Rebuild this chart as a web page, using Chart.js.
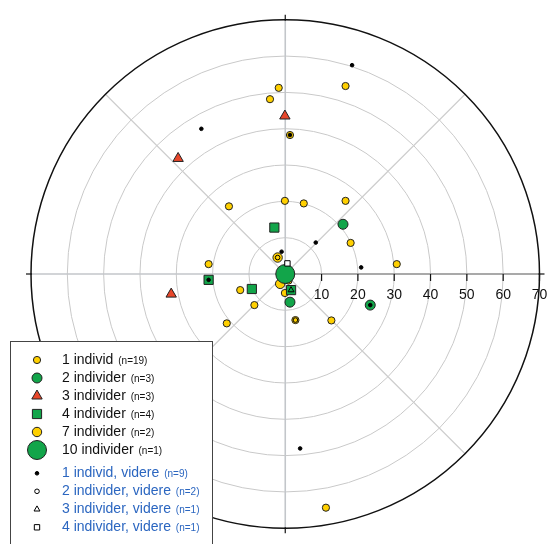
<!DOCTYPE html>
<html>
<head>
<meta charset="utf-8">
<script src="https://cdn.jsdelivr.net/npm/chart.js@4.4.0/dist/chart.umd.min.js"></script>
<style>
  html, body { margin: 0; padding: 0; background: #fff; overflow: hidden; }
  #polar { display: block; }
</style>
</head>
<body>
<canvas id="polar" width="550" height="544"></canvas>
<script>
// legend categories and how many of each
const categories = ['1 individ', '2 individer', '3 individer', '4 individer', '7 individer', '10 individer',
  '1 individ, videre', '2 individer, videre', '3 individer, videre', '4 individer, videre'];
const counts = [19, 3, 3, 4, 2, 1, 9, 2, 1, 1];

// observations, [east, north] from the centre
const ind1 = [[-1.8, 50.9], [-4.2, 47.8], [16.6, 51.4], [1.3, 38.0], [-0.1, 20.0], [5.1, 19.3],
  [-15.5, 18.5], [16.6, 20.0], [18.0, 8.5], [30.7, 2.7], [-21.1, 2.7], [-12.4, -4.4], [-8.5, -8.5],
  [-16.1, -13.5], [12.7, -12.7], [2.8, -12.6], [11.2, -63.9], [-0.1, -5.2], [0.9, -1.8]];
const ind2 = [[15.9, 13.6], [23.4, -8.5], [1.3, -7.7]];
const ind3 = [[-0.1, 43.2], [-29.5, 31.6], [-31.4, -5.5]];
const ind4 = [[-3.0, 12.7], [-9.2, -4.1], [-21.1, -1.6], [1.6, -4.4]];
const ind7 = [[-2.1, 4.5], [-1.4, -2.7]];
const ind10 = [[0, 0]];
const videre1 = [[18.4, 57.1], [-23.1, 39.7], [8.4, 8.6], [20.9, 1.8], [-1.0, 6.1], [4.1, -47.7],
  [23.4, -8.5], [-21.1, -1.6], [1.3, 38.0]];
const videre2 = [[-2.1, 4.5], [2.8, -12.6]];
const videre3 = [[1.6, -4.4]];
const videre4 = [[0.6, 2.9]];

const tickLabels = [10, 20, 30, 40, 50, 60, 70];
const spokeAngles = [0, 45, 90, 135, 180, 225, 270, 315];

const FONT = "'Liberation Sans', Arial, sans-serif";
const YELLOW = '#ffd000', GREEN = '#12a54a', RED = '#e8472b', EDGE = '#222';
const CLEAR = 'rgba(0,0,0,0)';

function pts(list) {
  return list.map(p => ({ x: p[0], y: p[1] }));
}

function series(i, list, style, radius, fill, border, order) {
  return {
    label: categories[i],
    data: pts(list),
    pointStyle: style,
    pointRadius: radius,
    backgroundColor: fill,
    borderColor: border,
    borderWidth: 1,
    order: order
  };
}

const datasets = [
  series(0, ind1, 'circle', 3.6, YELLOW, EDGE, 7),
  series(1, ind2, 'circle', 5, GREEN, EDGE, 4),
  series(2, ind3, 'triangle', 6, RED, EDGE, 3),
  series(3, ind4, 'rect', 6.5, GREEN, EDGE, 2),
  series(4, ind7, 'circle', 4.7, YELLOW, EDGE, 6),
  series(5, ind10, 'circle', 9.5, GREEN, EDGE, 5),
  series(6, videre1, 'circle', 1.8, '#000', '#000', 1),
  series(7, videre2, 'circle', 2.3, CLEAR, '#000', 1),
  series(8, videre3, 'triangle', 3.4, CLEAR, '#000', 1),
  series(9, videre4, 'rect', 3.8, '#fff', '#000', 1)
];

// rings, spokes, axis ticks
const polarGrid = {
  id: 'polarGrid',
  beforeDatasetsDraw(chart) {
    const { ctx } = chart;
    const xs = chart.scales.x, ys = chart.scales.y;
    const cx = xs.getPixelForValue(0), cy = ys.getPixelForValue(0);
    const rOf = v => xs.getPixelForValue(v) - cx;
    const rMax = rOf(tickLabels[tickLabels.length - 1]);
    ctx.save();

    ctx.strokeStyle = '#c9c9c9';
    ctx.lineWidth = 1;
    tickLabels.slice(0, -1).forEach(v => {
      ctx.beginPath();
      ctx.arc(cx, cy, rOf(v), 0, Math.PI * 2);
      ctx.stroke();
    });

    spokeAngles.forEach(a => {
      if (a === 0) return;
      const t = a * Math.PI / 180;
      ctx.strokeStyle = a % 90 === 0 ? '#c3c6ca' : '#cdcdcd';
      ctx.lineWidth = a % 90 === 0 ? 1.6 : 1.2;
      ctx.beginPath();
      ctx.moveTo(cx, cy);
      ctx.lineTo(cx + rMax * Math.cos(t), cy - rMax * Math.sin(t));
      ctx.stroke();
    });

    // the scale axis, to the east
    ctx.strokeStyle = '#8c8c8c';
    ctx.lineWidth = 1.6;
    ctx.beginPath();
    ctx.moveTo(cx, cy);
    ctx.lineTo(cx + rMax, cy);
    ctx.stroke();

    ctx.strokeStyle = '#111';
    ctx.lineWidth = 1.5;
    ctx.beginPath();
    ctx.arc(cx, cy, rMax, 0, Math.PI * 2);
    ctx.stroke();

    // small marks where the cross leaves the outer ring
    ctx.lineWidth = 1.2;
    [0, 90, 180, 270].forEach(a => {
      const t = a * Math.PI / 180;
      ctx.beginPath();
      ctx.moveTo(cx + (rMax - 1) * Math.cos(t), cy - (rMax - 1) * Math.sin(t));
      ctx.lineTo(cx + (rMax + 5) * Math.cos(t), cy - (rMax + 5) * Math.sin(t));
      ctx.stroke();
    });

    ctx.fillStyle = '#111';
    ctx.font = '14px ' + FONT;
    ctx.textAlign = 'center';
    ctx.textBaseline = 'alphabetic';
    tickLabels.forEach(v => {
      const px = xs.getPixelForValue(v);
      ctx.beginPath();
      ctx.moveTo(px, cy);
      ctx.lineTo(px, cy + 7);
      ctx.stroke();
      ctx.fillText(String(v), px, cy + 25);
    });
    ctx.restore();
  }
};

// boxed legend in the lower left corner
const boxLegend = {
  id: 'boxLegend',
  afterDatasetsDraw(chart) {
    const { ctx } = chart;
    ctx.save();
    ctx.fillStyle = '#fff';
    ctx.strokeStyle = '#444';
    ctx.lineWidth = 1;
    ctx.fillRect(10.5, 341.5, 202, 230);
    ctx.strokeRect(10.5, 341.5, 202, 230);

    categories.forEach((cat, i) => {
      const ds = chart.data.datasets[i];
      const y = 360 + 18 * i + (i >= 6 ? 5.3 : 0);
      ctx.fillStyle = ds.backgroundColor;
      ctx.strokeStyle = ds.borderColor;
      ctx.lineWidth = ds.borderWidth;
      Chart.helpers.drawPoint(ctx, {
        pointStyle: ds.pointStyle, radius: ds.pointRadius, borderWidth: ds.borderWidth, rotation: 0
      }, 37, y);

      const color = i >= 6 ? '#2b66c0' : '#111';
      ctx.fillStyle = color;
      ctx.textAlign = 'left';
      ctx.textBaseline = 'middle';
      ctx.font = '14px ' + FONT;
      const main = cat + ' ';
      ctx.fillText(main, 62, y);
      const w = ctx.measureText(main).width;
      ctx.font = '10px ' + FONT;
      ctx.fillText('(n=' + counts[i] + ')', 62 + w + 1, y + 1);
    });
    ctx.restore();
  }
};

new Chart(document.getElementById('polar'), {
  type: 'scatter',
  data: { datasets: datasets },
  options: {
    responsive: false,
    animation: false,
    devicePixelRatio: 1,
    layout: { padding: { left: 31, right: 7, top: 18, bottom: 14 } },
    scales: {
      x: { type: 'linear', min: -70, max: 70, display: false },
      y: { type: 'linear', min: -70, max: 70, display: false }
    },
    plugins: {
      legend: { display: false },
      tooltip: { enabled: false }
    }
  },
  plugins: [polarGrid, boxLegend]
});
</script>
</body>
</html>
